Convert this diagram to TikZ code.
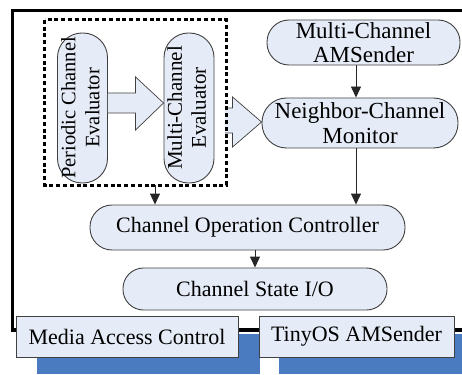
\documentclass[tikz,border=0pt]{standalone}
\usepackage{fontspec}
\setmainfont{Liberation Serif}
\usetikzlibrary{calc,arrows.meta}
\definecolor{capfill}{RGB}{230,236,247}
\definecolor{capline}{RGB}{64,64,64}
\definecolor{barblue}{RGB}{74,123,192}
\begin{document}
\begin{tikzpicture}[x=1pt,y=-1pt,
  capsule/.style={draw=capline, fill=capfill, line width=0.9pt, inner xsep=0pt, inner ysep=-4pt, align=center, font=\fontsize{22}{24}\selectfont},
  vcapsule/.style={draw=capline, fill=capfill, line width=0.9pt, inner sep=0pt, minimum width=50pt, minimum height=150pt, rounded corners=24.5pt},
  plainbox/.style={draw=capline, fill=capfill, line width=0.9pt, inner sep=0pt, minimum height=41pt, font=\fontsize{22}{24}\selectfont},
  arr/.style={draw=black!85, line width=0.9pt, -{Triangle[length=11pt,width=10pt]}},
  blk/.style={draw=capline, fill=capfill, line width=0.7pt},
  frame/.style={line width=3.2pt, black},
  grpline/.style={line width=2.9pt, dash pattern=on 4pt off 2.8pt}]
\useasboundingbox (0,0) rectangle (462,374);
% blue bars
\fill[barblue] (37,334) rectangle (260,374);
\fill[barblue] (279,334) rectangle (462,374);
% outer frame
\draw[frame] (465,10.5) -- (12.5,10.5) -- (12.5,330) -- (465,330);
% group container (border drawn later)
\node[minimum width=181pt, minimum height=165pt, inner sep=0pt] (grp) at (135.5,102.5) {};
% vertical capsules
\node[vcapsule] (pce) at (82.5,108) {\rotatebox{90}{\fontsize{20.5}{24}\selectfont\begin{tabular}{@{}c@{}}Periodic Channel\\Evaluator\end{tabular}}};
\node[vcapsule] (mce) at (189,108) {\rotatebox{90}{\fontsize{21}{24}\selectfont\begin{tabular}{@{}c@{}}Multi-Channel\\Evaluator\end{tabular}}};
% horizontal capsules
\node[capsule, minimum width=193pt, minimum height=45pt, rounded corners=22pt, font=\fontsize{23}{24}\selectfont] (ams) at (363.5,42.5) {Multi-Channel\\AMSender};
\node[capsule, minimum width=196pt, minimum height=50pt, rounded corners=24.5pt, font=\fontsize{23}{25}\selectfont] (nm) at (360,123) {Neighbor-Channel\\Monitor};
\node[capsule, minimum width=315pt, minimum height=45pt, rounded corners=22pt] (coc) at (247.5,227.5) {Channel Operation Controller};
\node[capsule, minimum width=264pt, minimum height=42pt, rounded corners=20.5pt] (csio) at (255,289) {Channel State I/O};
% bottom boxes
\node[plainbox, minimum width=222pt] (mac) at (127,336.5) {Media Access Control};
\node[plainbox, minimum width=195pt] (tos) at (356.5,336.5) {TinyOS AMSender};
% block arrows
\draw[blk] let \p1=(pce.east), \p2=(mce.west) in
  (\x1,\y1+15pt) -- (\x2-28pt,\y1+15pt) -- (\x2-28pt,\y1+31pt) -- (\x2,\y1+5pt)
  -- (\x2-28pt,\y1-22pt) -- (\x2-28pt,\y1-5pt) -- (\x1,\y1-5pt);
\draw[blk] let \p1=(grp.east), \p2=(nm.west) in
  (\x1-1pt,\y2+15pt) -- (\x2-29pt,\y2+15pt) -- (\x2-29pt,\y2+26pt) -- (\x2,\y2+1pt)
  -- (\x2-29pt,\y2-24pt) -- (\x2-29pt,\y2-10pt) -- (\x1-1pt,\y2-10pt);
% dashed group border
\draw[grpline] (grp.north west) rectangle (grp.south east);
% thin arrows
\draw[arr] ([xshift=-4pt]nm.north |- ams.south) -- ([xshift=-4pt]nm.north);
\draw[arr] ([xshift=-4pt]nm.south) -- ([xshift=-4pt]nm.south |- coc.north);
\draw[arr] ([xshift=19.5pt]grp.south) -- ([xshift=19.5pt]grp.south |- coc.north);
\draw[arr] (csio.north |- coc.south) -- (csio.north);
\end{tikzpicture}
\end{document}
